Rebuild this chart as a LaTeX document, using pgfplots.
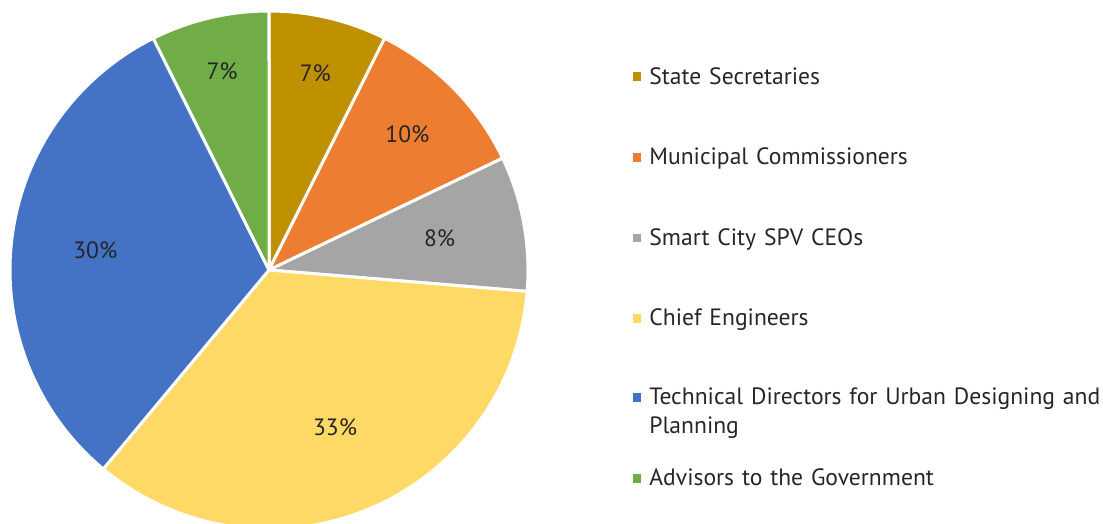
\documentclass[border=0pt]{standalone}
\usepackage{fontspec}
\setmainfont{PT Sans}
\usepackage{pgfplots}
\usepackage{pgfplotstable}
\pgfplotsset{compat=1.18}

\definecolor{c0}{HTML}{BF9000}
\definecolor{c1}{HTML}{ED7D31}
\definecolor{c2}{HTML}{A5A5A5}
\definecolor{c3}{HTML}{FFD966}
\definecolor{c4}{HTML}{4472C4}
\definecolor{c5}{HTML}{70AD47}
\definecolor{txt}{HTML}{262626}

% value = count per group, lr = label radius (fraction of r), ly = legend baseline
\pgfplotstableread[col sep=comma]{
label,value,lr,ly
State Secretaries,7,0.78,439.7
Municipal Commissioners,10,0.75,359
Smart City SPV CEOs,8,0.67,278.5
Chief Engineers,33,0.66,198
{Technical Directors for Urban Designing and\\Planning},30,0.675,119
Advisors to the Government,7,0.79,38
}\piedata

\def\pietotal{0}
\pgfplotsforeachungrouped \i in {0,...,5}{%
  \pgfplotstablegetelem{\i}{value}\of\piedata
  \pgfmathsetmacro\tmpsum{\pietotal+\pgfplotsretval}\xdef\pietotal{\tmpsum}}

\def\piecum{0}
\pgfplotsforeachungrouped \i in {0,...,5}{%
  \pgfplotstablegetelem{\i}{value}\of\piedata \let\pieval\pgfplotsretval
  \pgfmathsetmacro\angA{90-360/\pietotal*\piecum}
  \pgfmathsetmacro\angB{90-360/\pietotal*(\piecum+\pieval)}
  \pgfmathsetmacro\angM{(\angA+\angB)/2}
  \expandafter\xdef\csname sa\i\endcsname{\angA}
  \expandafter\xdef\csname ea\i\endcsname{\angB}
  \expandafter\xdef\csname ma\i\endcsname{\angM}
  \expandafter\xdef\csname pc\i\endcsname{\pieval}
  \pgfplotstablegetelem{\i}{lr}\of\piedata
  \pgfmathsetmacro\labr{\pgfplotsretval*129.5}
  \expandafter\xdef\csname lr\i\endcsname{\labr}
  \pgfplotstablegetelem{\i}{ly}\of\piedata
  \expandafter\xdef\csname ly\i\endcsname{\pgfplotsretval}
  \pgfplotstablegetelem{\i}{label}\of\piedata
  \global\expandafter\let\csname lab\i\endcsname\pgfplotsretval
  \pgfmathsetmacro\tmpsum{\piecum+\pieval}\xdef\piecum{\tmpsum}}

\begin{document}
\begin{tikzpicture}[font=\fontsize{11.8}{14.5}\selectfont]
\useasboundingbox (0,0) rectangle (551.5pt,262pt);
\begin{axis}[
  at={(0,0)}, anchor=south west,
  scale only axis, width=551.5pt, height=262pt,
  xmin=0, xmax=1103, ymin=0, ymax=524,
  hide axis, clip=false,
]
\pgfplotsinvokeforeach{0,...,5}{%
  \fill[c#1, draw=white, line width=1.5pt, line join=round]
    (axis cs:269,254) -- ++(\csname sa#1\endcsname:129.5pt)
    arc[start angle=\csname sa#1\endcsname, end angle=\csname ea#1\endcsname, radius=129.5pt] -- cycle;
}
\pgfplotsinvokeforeach{0,...,5}{%
  \path (axis cs:269,254) ++(\csname ma#1\endcsname:\csname lr#1\endcsname pt)
    node[text=txt] {\csname pc#1\endcsname\%};
  \fill[c#1] (axis cs:632.5,\csname ly#1\endcsname+3.3) rectangle (axis cs:641,\csname ly#1\endcsname+11.8);
  \node[anchor=base west, text width=240pt, align=left, text=txt, inner sep=0pt]
    at (axis cs:649,\csname ly#1\endcsname) {\csname lab#1\endcsname};
}
\end{axis}
\end{tikzpicture}
\end{document}
